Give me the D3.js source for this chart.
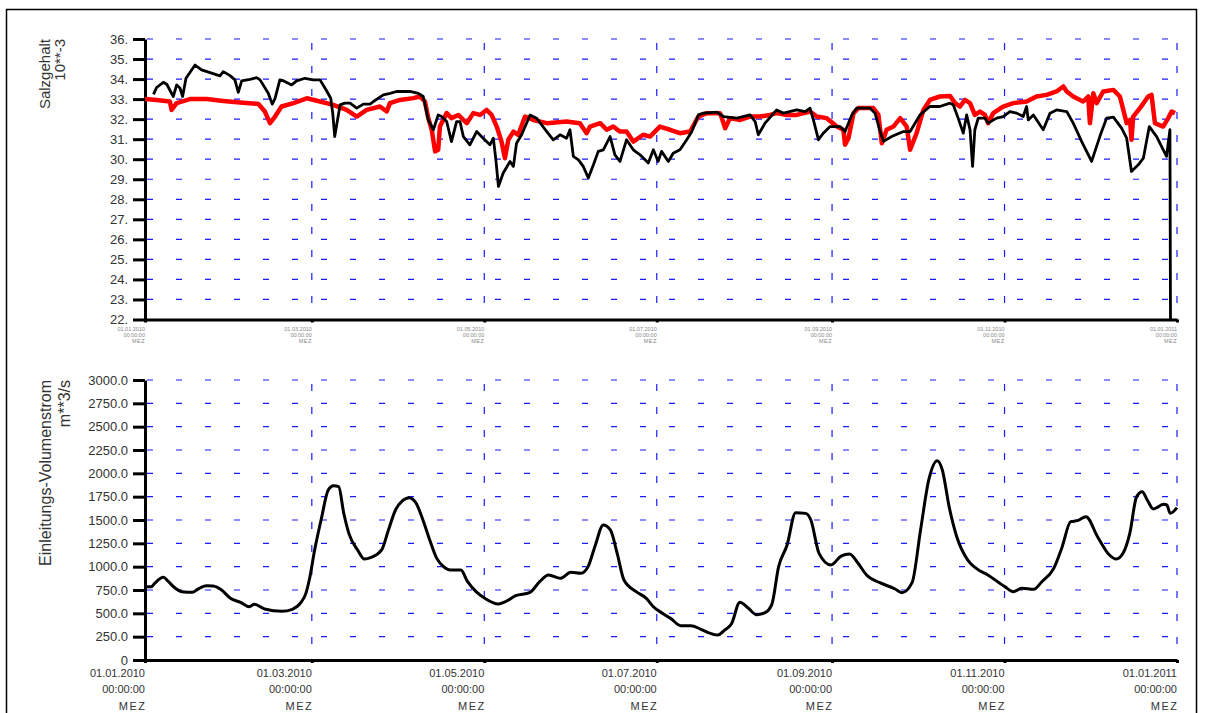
<!DOCTYPE html>
<html>
<head>
    <meta charset="utf-8">
    <title>Salzgehalt und Einleitungs-Volumenstrom 2010</title>
    <script src="https://cdn.jsdelivr.net/npm/d3@7"></script>
    <style>
        body { margin: 0; background: #fff; }
        svg { display: block; font-family: "Liberation Sans", Arial, sans-serif; }
    </style>
</head>
<body>
    <div id="chart"></div>
    <script>
        // Daten: Tage seit 01.01.2010 und Messwerte
        const saltDaysA = [3, 4.1, 6.5, 7.7, 10, 11.2, 12.4, 13.3, 14.5, 17.7, 20, 23, 26.5, 27.7, 30.1, 31.8, 33, 34.2, 37.1, 39.5, 40.7, 43.6, 45, 46, 47.7, 48.9, 51.9, 53.6, 56.6, 59.5, 61.9, 63.7, 65.7, 66.4, 67.1, 67.8, 69, 70.7, 72.5, 74.9, 77.2, 79.6, 80.8, 84.3, 86.7, 89, 93.7, 96.7, 98.4, 100.2, 102, 103.7, 104.9, 106.7, 108.4, 110.2, 111.4, 112.6, 114.9, 117.3, 119.6, 122, 123.2, 124.1, 125, 126.7, 129.1, 130.3, 131.4, 133.2, 136.2, 138.5, 142.1, 144.4, 146.8, 149.1, 150.3, 151.5, 153.3, 155, 156.8, 158.6, 160.3, 162.1, 164.5, 166.2, 168, 170.3, 172.7, 175.1, 178, 179.8, 181.5, 182.7, 185.1, 186.8, 189.2, 191.6, 193.4, 195.7, 197.5, 202.2, 204.6, 209.3, 214, 215.8, 216.9, 219.3, 223.4, 225.8, 230.5, 233.5, 235.2, 236.4, 238.2, 239.9, 242.3, 245.8, 247.6, 250, 251.7, 256.4, 258.2, 260, 261.2, 264.1, 268.2, 270.6, 274.1, 277.6, 281.1, 284.7, 285.9, 287.6, 289.4, 290.6, 291.8, 292.7, 293.5, 294.7, 297.1, 298.2, 301.2, 303.5, 305.9, 308.3, 310.6, 311.8, 312.4, 314.2, 317.7, 320.1, 322.4, 326, 328.3, 331.3, 334.8, 337.7, 340.1, 342.5, 345.4, 347.2, 348.9, 351.3, 353.1, 355.2, 357.8, 361.3, 362.5, 362.7];
        const saltValuesA = [33.24, 33.58, 33.84, 33.74, 33.13, 33.71, 33.54, 33.13, 34.04, 34.70, 34.46, 34.32, 34.16, 34.37, 34.17, 33.96, 33.34, 33.91, 33.99, 34.07, 33.96, 33.29, 32.75, 33.04, 33.96, 33.92, 33.71, 33.91, 34.04, 33.96, 33.96, 33.54, 33.04, 32.30, 31.13, 31.72, 32.71, 32.80, 32.80, 32.55, 32.75, 32.75, 32.88, 33.21, 33.29, 33.38, 33.38, 33.29, 33.13, 31.96, 31.47, 32.21, 32.13, 31.88, 30.88, 31.88, 31.88, 31.13, 30.72, 31.38, 31.05, 30.72, 31.05, 29.97, 28.64, 29.31, 29.89, 29.64, 30.8, 31.22, 32.21, 32.05, 31.38, 30.97, 31.22, 31.05, 31.47, 30.14, 29.97, 29.64, 29.06, 29.72, 30.39, 30.47, 31.13, 30.22, 29.89, 30.97, 30.47, 30.22, 29.81, 30.47, 29.89, 30.39, 29.89, 30.3, 30.47, 30.97, 31.38, 32.21, 32.30, 32.35, 32.13, 32.05, 32.21, 31.88, 31.22, 31.8, 32.46, 32.3, 32.46, 32.38, 32.55, 31.96, 30.97, 31.3, 31.63, 31.63, 31.38, 32.21, 32.55, 32.55, 32.3, 31.38, 30.89, 31.13, 31.38, 31.38, 32.21, 32.63, 32.63, 32.8, 32.71, 32.05, 31.3, 32.21, 31.47, 29.64, 31.47, 32.05, 32.05, 31.8, 32.05, 32.13, 32.38, 32.3, 32.13, 32.63, 31.96, 32.21, 31.47, 32.3, 32.46, 32.38, 31.8, 30.88, 29.89, 31.13, 32.05, 32.1, 31.55, 31.05, 29.39, 29.72, 30.05, 31.63, 31.13, 30.14, 31.47, 22];

        const saltDaysB = [0, 4.1, 8.8, 9.4, 11.2, 15.9, 21.8, 27.7, 33.6, 40.1, 42.4, 44.2, 46, 48.3, 52.5, 57.2, 61.9, 66.6, 71.3, 74.9, 78.4, 83.1, 85.5, 86.6, 90.2, 94.9, 97.2, 99, 100.2, 101.4, 102.6, 103.7, 104.3, 106.7, 108.4, 110.8, 113.8, 116.1, 118.5, 120.8, 122.6, 124.4, 126.1, 127.3, 128.5, 130.3, 132, 134.4, 137.3, 142.1, 149.1, 153.8, 156.2, 157.4, 161, 163.3, 165.6, 168, 170.3, 172.7, 176.2, 178.6, 182.1, 185.7, 189.2, 192.8, 195.7, 198.7, 203.4, 205.2, 206.9, 210.5, 214, 217.5, 221.1, 223.4, 227, 230.5, 235.2, 237.6, 241.1, 244.7, 247, 247.6, 248.8, 250.6, 252.3, 257.6, 259.4, 260.6, 262.3, 264.7, 267.1, 269.4, 270.6, 272.9, 275.3, 277.6, 281.1, 284.7, 286.5, 288.2, 290, 291.8, 293.5, 295.3, 297.1, 298.2, 300, 303.5, 307.1, 311.8, 315.3, 318.9, 322.4, 324.8, 326, 328.3, 331.8, 333.6, 334.2, 335.4, 336.6, 338.9, 342.5, 344.8, 347.2, 348.4, 348.9, 349.5, 351.9, 354.8, 356, 357.2, 360.1, 361.9, 363.1, 364.3];
        const saltValuesB = [33.0, 32.96, 32.88, 32.46, 32.8, 33.0, 33.0, 32.91, 32.83, 32.76, 32.38, 31.8, 32.13, 32.63, 32.8, 33.04, 32.88, 32.71, 32.46, 32.13, 32.46, 32.63, 32.38, 32.8, 32.96, 33.05, 33.13, 32.88, 32.05, 31.47, 30.39, 30.47, 31.63, 32.3, 32.05, 32.21, 31.8, 32.3, 32.21, 32.46, 32.21, 31.63, 30.88, 30.05, 30.97, 31.38, 31.22, 32.13, 31.96, 31.8, 31.88, 31.8, 31.3, 31.63, 31.8, 31.47, 31.63, 31.38, 31.38, 30.88, 31.22, 31.13, 31.63, 31.47, 31.3, 31.38, 32.13, 32.3, 32.3, 31.55, 32.05, 31.96, 32.13, 32.13, 32.21, 32.30, 32.21, 32.21, 32.38, 32.13, 32.05, 31.63, 31.47, 30.72, 31.05, 32.3, 32.55, 32.55, 32.21, 30.8, 31.47, 31.63, 32.05, 31.63, 30.47, 31.3, 32.46, 32.96, 33.13, 33.16, 32.8, 32.63, 32.96, 32.8, 32.21, 32.38, 32.21, 31.8, 32.3, 32.63, 32.8, 32.88, 33.13, 33.21, 33.38, 33.63, 33.38, 33.13, 32.88, 33.13, 31.8, 33.29, 32.8, 33.38, 33.46, 33.13, 31.8, 31.96, 30.97, 32.13, 32.55, 33.13, 33.21, 31.8, 31.63, 32.05, 32.38, 32.3];

        const flowDays = [0, 2.2, 3.4, 6.5, 8.3, 10.1, 13.1, 16.8, 18.6, 21.7, 24.1, 27.1, 30.2, 33.8, 36.9, 38.7, 42.3, 48.4, 52.1, 55.1, 56.9, 58.1, 60, 62.4, 64.8, 66.7, 68.5, 70.3, 72.1, 75.2, 77.6, 80, 83.7, 86.1, 88.6, 91, 93.4, 95.9, 98.3, 100.7, 103.2, 105.6, 108, 111.7, 114.1, 117.1, 120.2, 125, 127.5, 131.1, 136, 139.6, 142.7, 146.9, 150.6, 154.2, 156.7, 159.1, 162.1, 164.6, 167, 169.4, 173.7, 177.3, 179.8, 183.4, 185.9, 189.5, 193.1, 196.6, 199, 202.6, 205, 207.4, 210.4, 213.4, 216.3, 219.3, 221.7, 224.1, 227.1, 230.1, 233.7, 235.5, 238.4, 242.6, 246.2, 249.2, 252.2, 255.2, 259.9, 265.3, 267.7, 271.3, 274.3, 277.2, 280.2, 282, 284.4, 287.1, 291, 294, 298.1, 304.1, 307.1, 310.1, 314.3, 317.2, 321.4, 324.4, 327.4, 329.8, 332.8, 336.9, 341.1, 343.5, 345.9, 348.3, 350.7, 352.7, 354.5, 356.6, 360.2, 361.4, 362.6, 365];
        const flowValues = [785, 785, 821, 886, 839, 785, 732, 725, 757, 796, 793, 750, 661, 618, 571, 596, 546, 521, 543, 614, 714, 857, 1179, 1518, 1821, 1868, 1857, 1572, 1357, 1179, 1082, 1100, 1179, 1393, 1607, 1704, 1739, 1679, 1500, 1286, 1089, 1000, 964, 964, 839, 732, 661, 600, 625, 689, 721, 839, 911, 875, 940, 929, 1000, 1214, 1446, 1393, 1143, 857, 732, 661, 571, 493, 446, 368, 368, 329, 296, 268, 321, 386, 618, 554, 486, 507, 596, 1000, 1232, 1579, 1571, 1500, 1143, 1018, 1114, 1136, 1036, 911, 829, 761, 721, 829, 1393, 1929, 2136, 2036, 1643, 1321, 1071, 982, 911, 786, 732, 768, 757, 839, 982, 1214, 1482, 1493, 1536, 1321, 1125, 1082, 1143, 1357, 1750, 1804, 1714, 1618, 1668, 1661, 1571, 1632];

        const saltTicks = d3.range(22, 37);
        const flowTicks = d3.range(0, 3001, 250);
        const dateLines = ["00:00:00", "MEZ"];

        const start = new Date(Date.UTC(2010, 0, 1));
        const end = new Date(Date.UTC(2011, 0, 1));
        const toDate = d => new Date(start.getTime() + d * 864e5);

        const width = 1208, height = 713;
        const left = 145, right = 1177;

        const svg = d3.select("#chart")
            .append("svg")
            .attr("width", width)
            .attr("height", height);

        // Rahmen
        svg.append("rect")
            .attr("x", 6.5).attr("y", 9.5)
            .attr("width", 1190).attr("height", 730)
            .attr("fill", "none")
            .attr("stroke", "#000")
            .attr("stroke-width", 1.5);

        const x = d3.scaleUtc().domain([start, end]).range([left, right]);
        const monthTicks = d3.utcMonth.every(2).range(start, d3.utcDay.offset(end, 1));
        const fmt = d3.utcFormat("%d.%m.%Y");

        function panel(y, yTicks, yFmt, top, bottom, titles, bigDates) {
            const g = svg.append("g");

            // Gitter horizontal
            g.selectAll(".hgrid")
                .data(yTicks.slice(1))
                .enter()
                .append("line")
                .attr("x1", left + 2).attr("x2", right)
                .attr("y1", d => y(d)).attr("y2", d => y(d))
                .attr("stroke", "#1a1aff")
                .attr("stroke-width", 1.2)
                .attr("stroke-dasharray", "6,23");

            // Gitter vertikal
            g.selectAll(".vgrid")
                .data(monthTicks.slice(1))
                .enter()
                .append("line")
                .attr("x1", d => x(d)).attr("x2", d => x(d))
                .attr("y1", top + 4).attr("y2", bottom)
                .attr("stroke", "#1a1aff")
                .attr("stroke-width", 1.2)
                .attr("stroke-dasharray", "7,16");

            // y-Achse
            const yAxis = d3.axisLeft(y)
                .tickValues(yTicks)
                .tickFormat(yFmt)
                .tickSize(12)
                .tickSizeOuter(0)
                .tickPadding(5);
            const ya = g.append("g")
                .attr("transform", "translate(" + left + ",0)")
                .call(yAxis);
            ya.select(".domain").attr("stroke-width", 3);
            ya.selectAll(".tick line").attr("stroke-width", 3);
            ya.selectAll(".tick text")
                .attr("font-size", "13px")
                .attr("fill", "#333");

            // x-Achse
            const xAxis = d3.axisBottom(x)
                .tickValues(monthTicks)
                .tickFormat("")
                .tickSize(3)
                .tickSizeOuter(0);
            const xa = g.append("g")
                .attr("transform", "translate(0," + bottom + ")")
                .call(xAxis);
            xa.select(".domain").attr("stroke-width", 3);
            xa.selectAll(".tick line").attr("stroke-width", 3);

            const fs = bigDates ? 11 : 5.5;
            const lh = bigDates ? 16.5 : 6.2;
            const y0 = bigDates ? bottom + 16.5 : bottom + 11;
            monthTicks.forEach(t => {
                const lab = g.append("text")
                    .attr("text-anchor", "end")
                    .attr("font-size", fs + "px")
                    .attr("fill", bigDates ? "#333" : "#888");
                [fmt(t)].concat(dateLines).forEach((s, i) => {
                    lab.append("tspan")
                        .attr("x", x(t) + (i === 2 && bigDates ? 1.5 : 0))
                        .attr("y", y0 + i * lh)
                        .attr("letter-spacing", i === 2 ? (bigDates ? "1.5px" : "0.5px") : null)
                        .text(s);
                });
            });

            // Achsentitel
            titles.forEach((t, i) => {
                g.append("text")
                    .attr("transform", "translate(" + t.x + "," + top + ") rotate(-90)")
                    .attr("text-anchor", "end")
                    .attr("font-size", t.size + "px")
                    .attr("fill", "#333")
                    .text(t.text);
            });
            return g;
        }

        // Oberes Diagramm: Salzgehalt
        const ySalt = d3.scaleLinear().domain([22, 36]).range([319.5, 39]);
        const gTop = panel(ySalt, saltTicks, d => d + ".", 39, 319.5,
            [{ text: "Salzgehalt", x: 50, size: 15 }, { text: "10**-3", x: 65, size: 15 }], false);

        const saltLine = d3.line()
            .x(d => x(toDate(d[0])))
            .y(d => ySalt(d[1]));

        gTop.append("path")
            .datum(saltDaysB.map((d, i) => [d, saltValuesB[i]]))
            .attr("d", saltLine)
            .attr("fill", "none")
            .attr("stroke", "#ff0000")
            .attr("stroke-width", 4.5)
            .attr("stroke-linejoin", "round");

        gTop.append("path")
            .datum(saltDaysA.map((d, i) => [d, saltValuesA[i]]))
            .attr("d", saltLine)
            .attr("fill", "none")
            .attr("stroke", "#000")
            .attr("stroke-width", 2.8)
            .attr("stroke-linejoin", "round");

        // Unteres Diagramm: Volumenstrom
        const yFlow = d3.scaleLinear().domain([0, 3000]).range([660, 380]);
        const gBot = panel(yFlow, flowTicks, d => d === 0 ? "0" : d3.format(".1f")(d), 380, 660,
            [{ text: "Einleitungs-Volumenstrom", x: 51, size: 16 }, { text: "m**3/s", x: 70, size: 16 }], true);

        const flowLine = d3.line()
            .x(d => x(toDate(d[0])))
            .y(d => yFlow(d[1]))
            .curve(d3.curveMonotoneX);

        gBot.append("path")
            .datum(flowDays.map((d, i) => [d, flowValues[i]]))
            .attr("d", flowLine)
            .attr("fill", "none")
            .attr("stroke", "#000")
            .attr("stroke-width", 3)
            .attr("stroke-linejoin", "round");
    </script>
</body>
</html>
